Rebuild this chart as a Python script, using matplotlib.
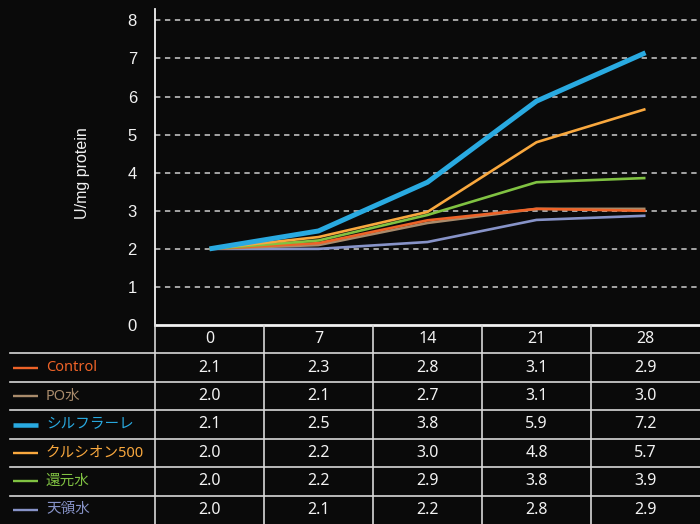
import numpy as np
import matplotlib
matplotlib.use("Agg")
import matplotlib.pyplot as plt

plt.rcParams['font.family'] = ['Noto Sans', 'Noto Sans CJK JP', 'DejaVu Sans']

# === Data ===
days = ['0', '7', '14', '21', '28']
names = ['Control', 'PO水', 'シルフラーレ', 'クルシオン500', '還元水', '天領水']
colors = ['#ee6328', '#a98b6b', '#29aae1', '#f9a83e', '#80c242', '#8793c8']
widths = [1.9, 1.9, 3.6, 1.9, 1.9, 1.9]

# values printed in the table
table_vals = [
    [2.1, 2.3, 2.8, 3.1, 2.9],
    [2.0, 2.1, 2.7, 3.1, 3.0],
    [2.1, 2.5, 3.8, 5.9, 7.2],
    [2.0, 2.2, 3.0, 4.8, 5.7],
    [2.0, 2.2, 2.9, 3.8, 3.9],
    [2.0, 2.1, 2.2, 2.8, 2.9],
]
# values as drawn by the lines
line_vals = [
    [2.0, 2.15, 2.75, 3.05, 3.0],
    [2.0, 2.1, 2.68, 3.05, 3.05],
    [2.0, 2.47, 3.75, 5.88, 7.15],
    [2.0, 2.31, 2.97, 4.8, 5.67],
    [2.0, 2.22, 2.89, 3.75, 3.86],
    [2.0, 2.0, 2.18, 2.76, 2.87],
]
draw_order = [5, 1, 0, 4, 3, 2]

bg = '#0a0a0a'
fg = '#f2f2f2'
W, H = 700, 524

fig = plt.figure(figsize=(7, 5.24), dpi=100, facecolor=bg)

# === Line chart ===
ax = fig.add_axes([155 / W, 1 - 325 / H, 545 / W, 316 / H], facecolor=bg)
x = np.arange(len(days))
for i in draw_order:
    ax.plot(x, line_vals[i], color=colors[i], lw=widths[i],
            solid_capstyle='butt', solid_joinstyle='miter', zorder=3)

ax.set_xlim(-0.5, len(days) - 0.5)
ax.set_ylim(0, 8.3)
ax.set_yticks(range(0, 9))
ax.set_xticks([])
for yv in range(1, 9):
    ax.axhline(yv, color='#cfcfcf', lw=1.1, ls=(0, (3.5, 3)), zorder=1)
ax.tick_params(axis='y', length=0, pad=13, labelsize=12, labelcolor=fg)
for lab in ax.get_yticklabels():
    lab.set_family('Liberation Sans')
for s in ['top', 'right']:
    ax.spines[s].set_visible(False)
ax.spines['left'].set_color(fg)
ax.spines['left'].set_linewidth(1.3)
ax.spines['bottom'].set_color(fg)
ax.spines['bottom'].set_linewidth(2)

fig.text(83 / W, 1 - 173 / H, 'U/mg protein', rotation=90, ha='center',
         va='center', color=fg, fontsize=11.5, family='Liberation Sans')

# === Data table ===
tb = fig.add_axes([155 / W, 0, 545 / W, 199 / H], facecolor='none')
tb.set_xlim(-0.5, len(days) - 0.5)
tb.set_ylim(len(names) + 1, 0)
tb.axis('off')

left_x = -0.5 - 145 / 109
for r in range(1, len(names) + 1):
    tb.plot([left_x, len(days) - 0.5], [r, r], color='#d8d8d8', lw=1.2,
            clip_on=False)
for c in range(len(days)):
    tb.plot([c - 0.5, c - 0.5], [0, len(names) + 1], color='#d8d8d8', lw=1.2,
            clip_on=False)

for c, d in enumerate(days):
    tb.text(c, 0.5, d, ha='center', va='center', color=fg, fontsize=11.5)

for r, name in enumerate(names):
    yc = r + 1.5
    tb.plot([-0.5 - 142 / 109, -0.5 - 117 / 109], [yc, yc], color=colors[r],
            lw=widths[r] * 0.9, solid_capstyle='butt', clip_on=False)
    tb.text(-0.5 - 109 / 109, yc, name, ha='left', va='center',
            color=colors[r], fontsize=10.5, clip_on=False)
    for c in range(len(days)):
        tb.text(c, yc, f'{table_vals[r][c]:.1f}', ha='center', va='center',
                color=fg, fontsize=11.5)

fig.savefig('out.png', dpi=100, facecolor=bg)
